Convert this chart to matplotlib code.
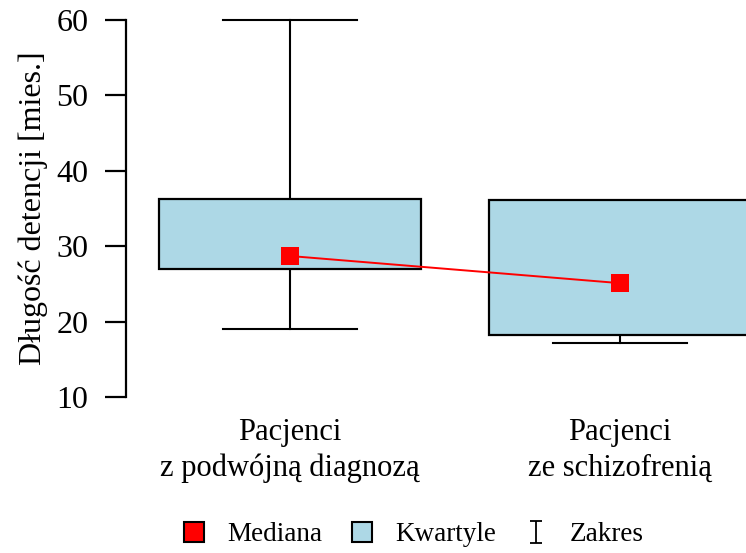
#!/usr/bin/env python3
"""Box chart of detention length for two patient groups."""

import matplotlib

matplotlib.use("Agg")
import matplotlib.pyplot as plt
from matplotlib.lines import Line2D
from matplotlib.path import Path

# values
groups = ["Pacjenci\nz podwójną diagnozą", "Pacjenci\nze schizofrenią"]
mins = [19.0, 17.1]
q1 = [27.0, 18.2]
medians = [28.7, 25.1]
q3 = [36.3, 36.1]
maxs = [60.0, 36.1]

plt.rcParams["font.family"] = ["Liberation Serif", "DejaVu Serif"]

fig = plt.figure(figsize=(7.46, 5.53), dpi=100)
ax = fig.add_axes([126 / 746, 156 / 553, 620 / 746, 377 / 553])

pos = [1, 2]
box_w = 0.794
cap_w = 0.406

for x, lo, a, m, b, hi in zip(pos, mins, q1, medians, q3, maxs):
    ax.bar(x, b - a, bottom=a, width=box_w, color="#ADD8E6",
           edgecolor="black", linewidth=1.6, zorder=2, clip_on=False)
    if hi > b:
        ax.plot([x, x], [b, hi], color="black", lw=1.5, zorder=1, clip_on=False)
        ax.plot([x - cap_w / 2, x + cap_w / 2], [hi, hi], color="black",
                lw=1.5, zorder=1, clip_on=False)
    if lo < a:
        ax.plot([x, x], [lo, a], color="black", lw=1.5, zorder=1, clip_on=False)
        ax.plot([x - cap_w / 2, x + cap_w / 2], [lo, lo], color="black",
                lw=1.5, zorder=1, clip_on=False)

ax.plot(pos, medians, color="red", lw=1.4, marker="s", markersize=13,
        markeredgewidth=0, zorder=3, clip_on=False)

ax.set_xlim(0.503, 2.382)
ax.set_ylim(10, 60)
ax.set_yticks([10, 20, 30, 40, 50, 60])
ax.tick_params(axis="y", labelsize=23, length=15, width=1.6, direction="out", pad=12)
ax.set_xticks(pos, groups)
ax.tick_params(axis="x", length=0, labelsize=22, pad=15)
for lab in ax.get_xticklabels():
    lab.set_linespacing(1.3)
for side in ("top", "right", "bottom"):
    ax.spines[side].set_visible(False)
ax.spines["left"].set_linewidth(1.6)
ax.set_ylabel("Długość detencji [mies.]", fontsize=23, labelpad=6)
ax.patch.set_visible(False)

# range symbol for the legend
ibeam = Path([(-0.5, 1), (0.5, 1), (0, 1), (0, -1), (-0.5, -1), (0.5, -1)],
             [Path.MOVETO, Path.LINETO, Path.MOVETO, Path.LINETO, Path.MOVETO, Path.LINETO])
handles = [
    Line2D([], [], ls="none", marker="s", markersize=14, markerfacecolor="red",
           markeredgecolor="black", markeredgewidth=1.5),
    Line2D([], [], ls="none", marker="s", markersize=14, markerfacecolor="#ADD8E6",
           markeredgecolor="black", markeredgewidth=1.5),
    Line2D([], [], ls="none", marker=ibeam, markersize=16, markerfacecolor="none",
           markeredgecolor="black", markeredgewidth=1.3),
]
fig.legend(handles, ["Mediana", "Kwartyle", "Zakres"], loc="center",
           bbox_to_anchor=(0.552, 0.033), ncol=3, frameon=False, fontsize=19.5,
           handlelength=1.0, handletextpad=0.75, columnspacing=0.95)

fig.savefig("out.png", dpi=100)
